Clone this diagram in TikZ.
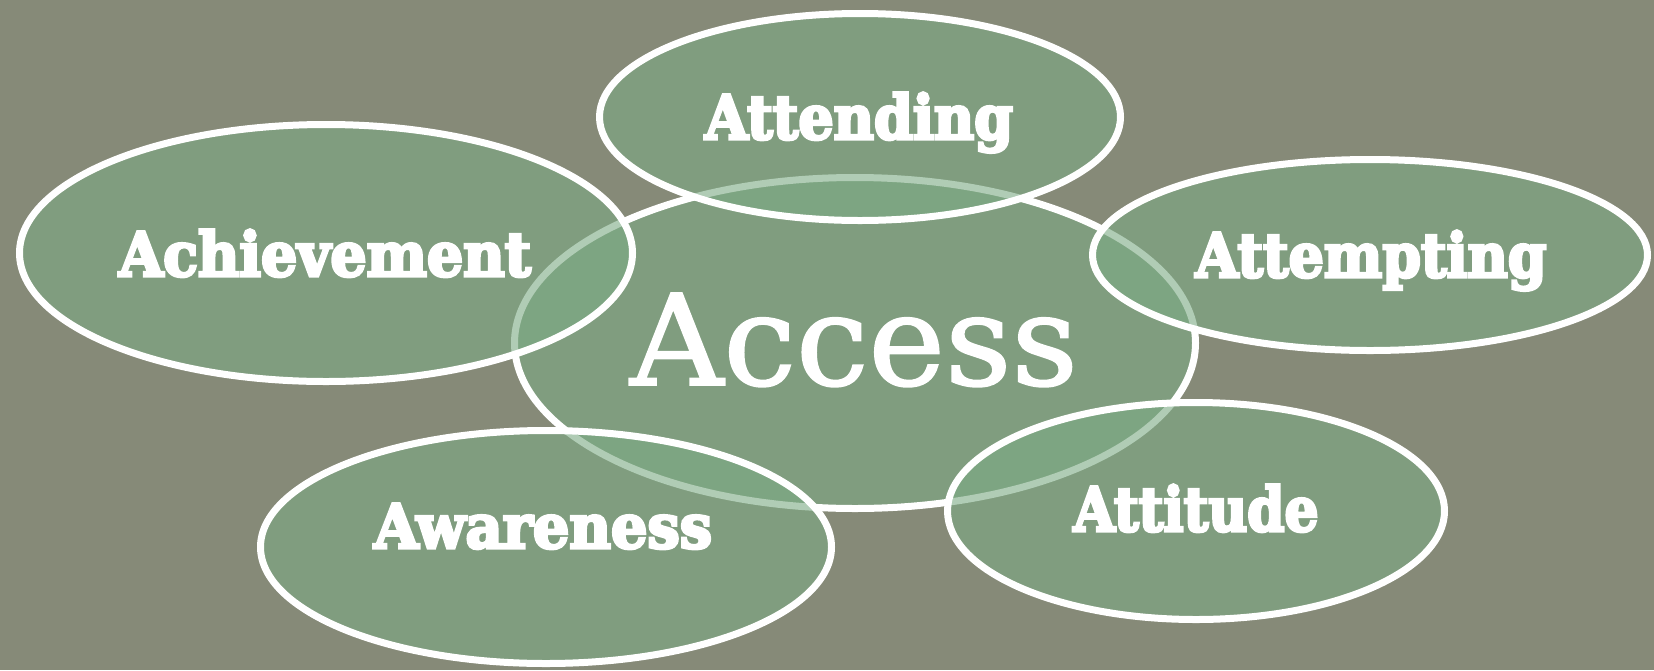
\documentclass[tikz,border=0pt]{standalone}
\usepackage{fontspec}
\setmainfont{DejaVu Serif}
\newfontfamily\heavyfont[FakeBold=5]{DejaVu Serif Bold}
\newfontfamily\accessfont[FakeBold=1.5]{DejaVu Serif}
\usetikzlibrary{shapes.geometric}
\definecolor{bgc}{RGB}{134,138,120}
\definecolor{ovc}{RGB}{124,171,132}
\newlength\lblw
\newcommand\fitlbl[2]{\settowidth\lblw{#2}\pgfmathsetmacro\lblsx{#1/\lblw}\scalebox{\lblsx}[1]{#2}}
\begin{document}
\begin{tikzpicture}[x=1pt,y=-1pt,
  oval/.style={ellipse, draw=white, line width=7pt, fill=ovc, fill opacity=0.6, draw opacity=1, inner sep=0pt},
  lbl/.style={text=white, anchor=base, inner sep=0pt, font=\heavyfont\fontsize{61}{61}\selectfont}]
\fill[bgc] (0,0) rectangle (1654,670);
\useasboundingbox (0,0) rectangle (1654,670);
\node[oval, minimum width=681pt, minimum height=331pt] (access) at (855,343) {};
\node[oval, minimum width=521pt, minimum height=207pt] (attending) at (860,117) {};
\node[oval, minimum width=613pt, minimum height=257pt] (achievement) at (326,253) {};
\node[oval, minimum width=555pt, minimum height=191pt] (attempting) at (1370,255) {};
\node[oval, minimum width=497pt, minimum height=217pt] (attitude) at (1196,511) {};
\node[oval, minimum width=571pt, minimum height=233pt] (awareness) at (546,547) {};
\node[lbl] (tAttending) at (859,139) {\fitlbl{308}{Attending}};
\node[lbl] (tAchievement) at (325,276) {\fitlbl{412}{Achievement}};
\node[lbl] (tAttempting) at (1371,277) {\fitlbl{351}{Attempting}};
\node[lbl] (tAttitude) at (1196,531) {\fitlbl{245}{Attitude}};
\node[lbl] (tAwareness) at (543,548) {\fitlbl{338}{Awareness}};
\node[lbl, font=\accessfont\fontsize{126}{126}\selectfont] (tAccess) at (854,385) {\fitlbl{448}{Access}};
\end{tikzpicture}
\end{document}
